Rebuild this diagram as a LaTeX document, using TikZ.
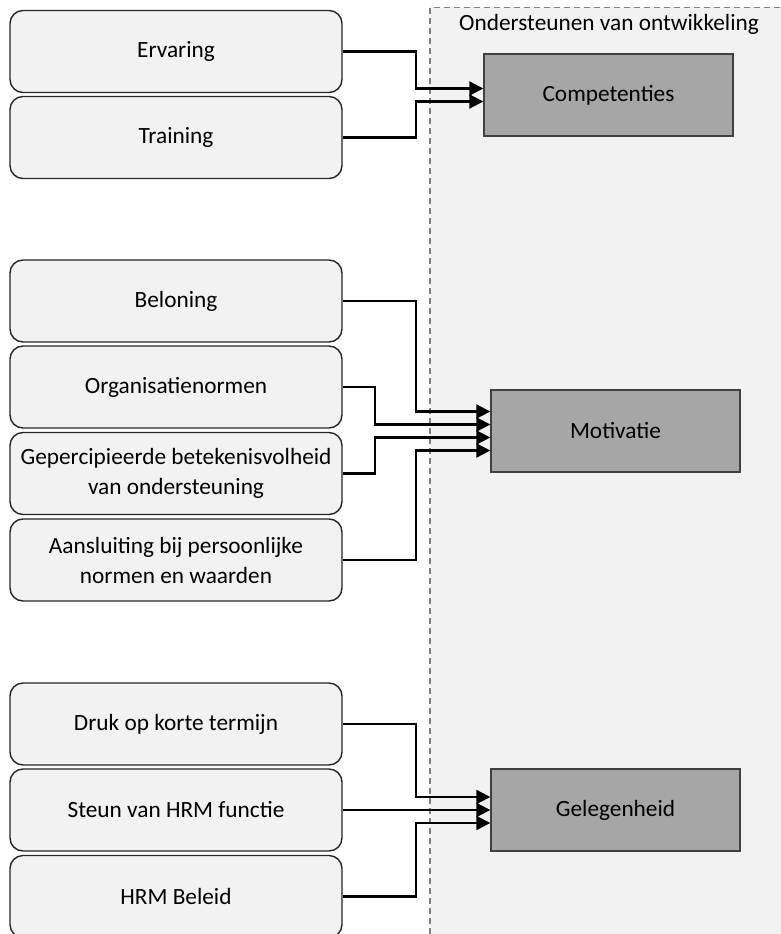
\documentclass[tikz,border=0pt]{standalone}
\usepackage{fontspec}
\setmainfont{Carlito}
\usetikzlibrary{arrows.meta,calc}
\definecolor{boxfill}{HTML}{F2F2F2}
\definecolor{darkfill}{HTML}{A6A6A6}
\definecolor{darkline}{HTML}{404040}
\definecolor{dashgrey}{HTML}{808080}
\begin{document}
\begin{tikzpicture}[x=1pt,y=-1pt,
  srcbox/.style={draw=black!85, line width=1.4pt, fill=boxfill, rounded corners=13pt,
    minimum width=332pt, minimum height=82pt, inner sep=0pt, align=center,
    font=\fontsize{23.3}{30}\selectfont},
  tgtbox/.style={draw=darkline, line width=1.4pt, fill=darkfill,
    minimum width=249pt, minimum height=82pt, inner sep=0pt,
    font=\fontsize{23.3}{30}\selectfont},
  arr/.style={line width=2.1pt, -{Triangle[length=14pt,width=14pt]}}]
\useasboundingbox (0,0) rectangle (781,934);
% container
\fill[boxfill] (430,7.5) rectangle (781,934);
\draw[dashgrey, line width=1.5pt, dash pattern=on 6pt off 4pt] (430,934) -- (430,7.5) -- (781,7.5);
\node[font=\fontsize{23.3}{30}\selectfont, anchor=center] (title) at (609,24) {Ondersteunen van ontwikkeling};
% source boxes
\node[srcbox] (erv) at (176,51.5) {Ervaring};
\node[srcbox] (tra) at (176,137.5) {Training};
\node[srcbox] (bel) at (176,301) {Beloning};
\node[srcbox] (org) at (176,387) {Organisatienormen};
\node[srcbox] (gep) at (176,473.5) {Gepercipieerde betekenisvolheid\\van ondersteuning};
\node[srcbox] (aan) at (176,560) {Aansluiting bij persoonlijke\\normen en waarden};
\node[srcbox] (dru) at (176,724) {Druk op korte termijn};
\node[srcbox] (ste) at (176,810) {Steun van HRM functie};
\node[srcbox] (hrm) at (176,896.5) {HRM Beleid};
% target boxes
\node[tgtbox] (comp) at (608.5,95) {Competenties};
\node[tgtbox] (mot) at (615.5,431) {Motivatie};
\node[tgtbox] (gel) at (615.5,810) {Gelegenheid};
% connectors
\draw[arr] (erv.east) -| ($(comp.west)+(-67,-6.5)$) -- ($(comp.west)+(0,-6.5)$);
\draw[arr] (tra.east) -| ($(comp.west)+(-67,6.5)$) -- ($(comp.west)+(0,6.5)$);
\draw[arr] (bel.east) -| ($(mot.west)+(-74,-19.5)$) -- ($(mot.west)+(0,-19.5)$);
\draw[arr] (org.east) -| ($(mot.west)+(-115,-6.5)$) -- ($(mot.west)+(0,-6.5)$);
\draw[arr] (gep.east) -| ($(mot.west)+(-115,6.5)$) -- ($(mot.west)+(0,6.5)$);
\draw[arr] (aan.east) -| ($(mot.west)+(-74,19.5)$) -- ($(mot.west)+(0,19.5)$);
\draw[arr] (dru.east) -| ($(gel.west)+(-74,-13)$) -- ($(gel.west)+(0,-13)$);
\draw[arr] (ste.east) -- (gel.west);
\draw[arr] (hrm.east) -| ($(gel.west)+(-74,13)$) -- ($(gel.west)+(0,13)$);
\end{tikzpicture}
\end{document}
